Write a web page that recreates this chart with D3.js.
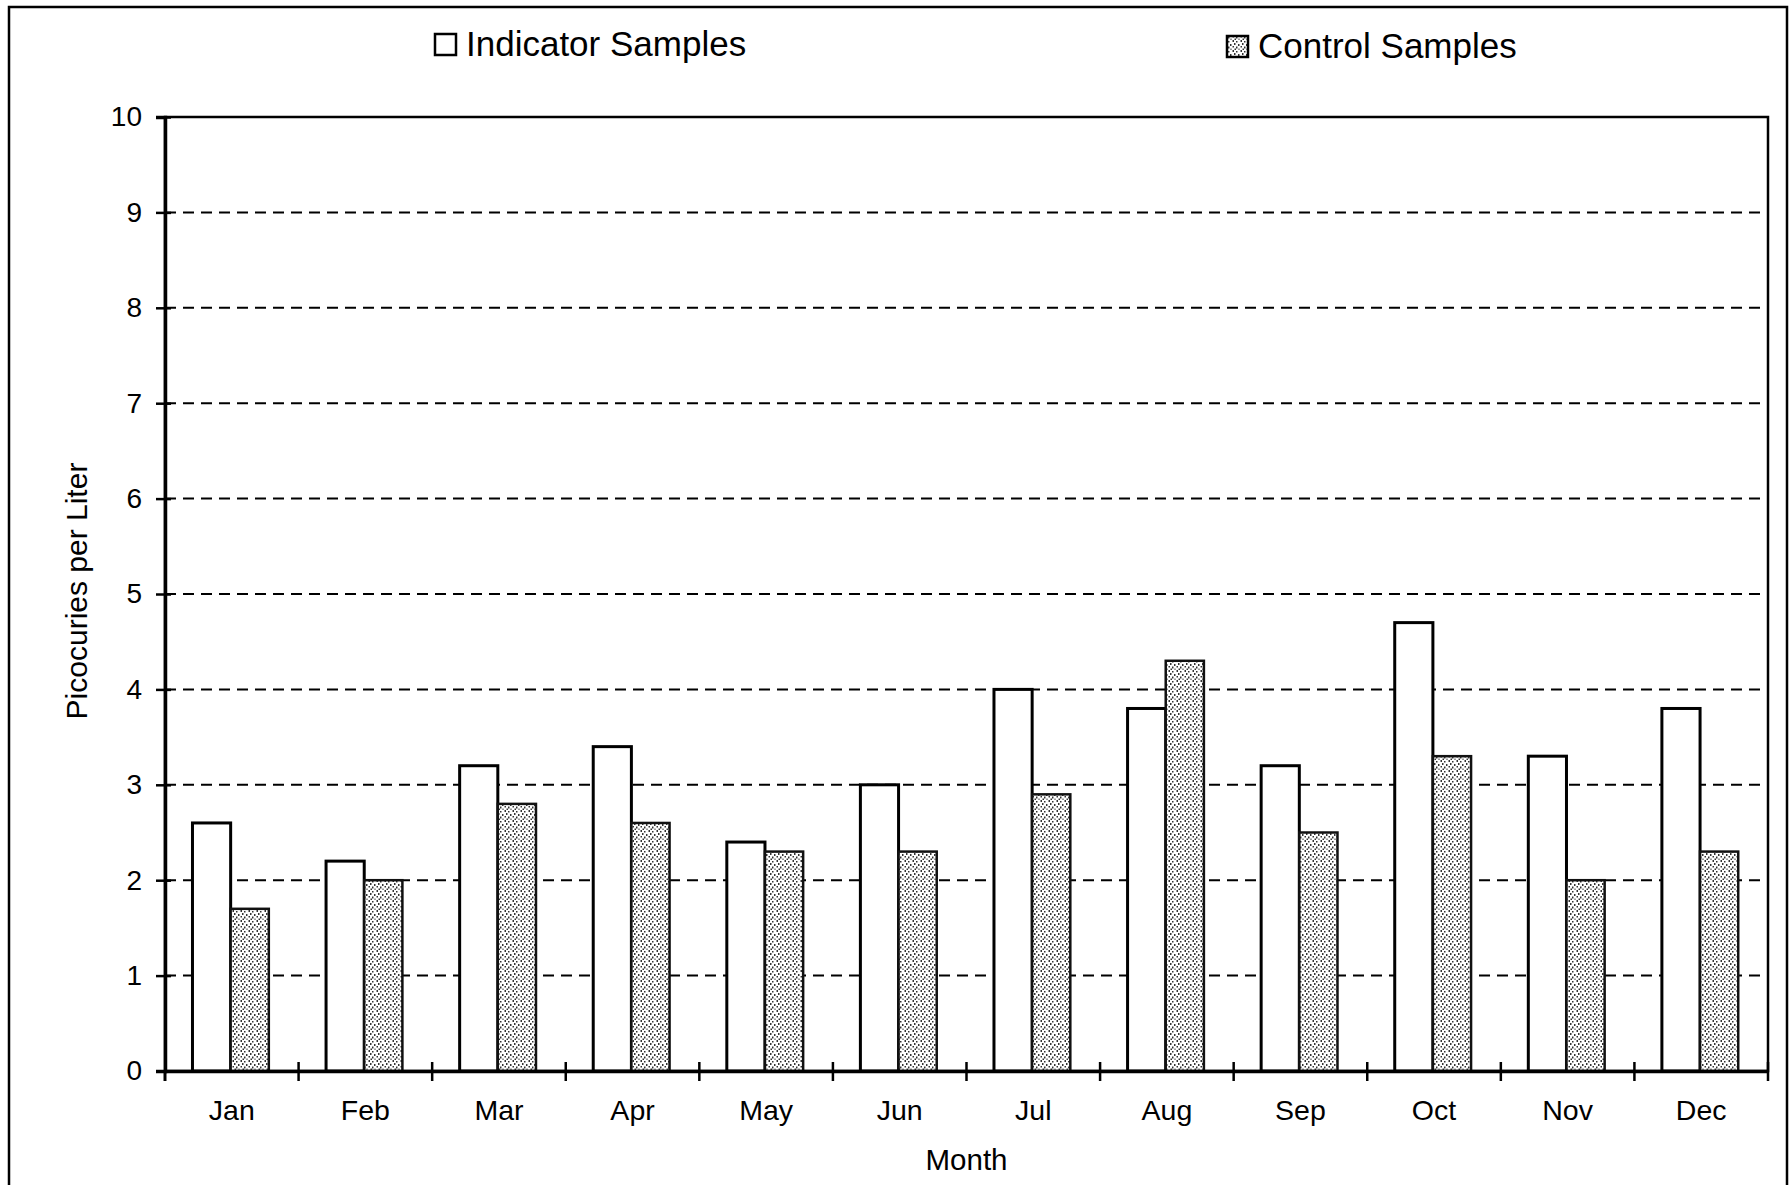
<!DOCTYPE html>
<html>
<head>
<meta charset="utf-8">
<script src="https://cdn.jsdelivr.net/npm/d3@7"></script>
<style>
  body { margin: 0; background: #fff; }
  svg { display: block; font-family: "Liberation Sans", Arial, sans-serif; }
</style>
</head>
<body>
<div id="chart"></div>
<script>
const months = ["Jan", "Feb", "Mar", "Apr", "May", "Jun", "Jul", "Aug", "Sep", "Oct", "Nov", "Dec"];
const indicator = [2.6, 2.2, 3.2, 3.4, 2.4, 3.0, 4.0, 3.8, 3.2, 4.7, 3.3, 3.8];
const control = [1.7, 2.0, 2.8, 2.6, 2.3, 2.3, 2.9, 4.3, 2.5, 3.3, 2.0, 2.3];
const yTicks = [0, 1, 2, 3, 4, 5, 6, 7, 8, 9, 10];
const seriesNames = ["Indicator Samples", "Control Samples"];

const W = 1792, H = 1185;
const plot = { left: 165, top: 117, right: 1768, bottom: 1071 };

const svg = d3
  .select("#chart")
  .append("svg")
  .attr("width", W)
  .attr("height", H);

// stipple fill for the control bars
const defs = svg.append("defs");
const pat = defs
  .append("pattern")
  .attr("id", "stipple")
  .attr("patternUnits", "userSpaceOnUse")
  .attr("width", 8)
  .attr("height", 10);
pat.append("rect").attr("width", 8).attr("height", 10).attr("fill", "#fff");
[
  [0.5, 0, 1.5, 2], [4, 1, 1.5, 1.5], [2, 3, 1.5, 2], [6, 4, 1.5, 2],
  [0.5, 6, 1.5, 1.5], [4, 6.5, 1.5, 2], [2.5, 8.5, 1.5, 1.5], [6.5, 8.5, 1, 1.5]
].forEach((r) => {
  pat
    .append("rect")
    .attr("x", r[0])
    .attr("y", r[1])
    .attr("width", r[2])
    .attr("height", r[3])
    .attr("fill", "#333");
});

// outer frame (bottom edge is missing in the scan)
svg
  .append("path")
  .attr("d", `M9,${H} L9,7 L1787,7 L1787,${H}`)
  .attr("fill", "none")
  .attr("stroke", "#000")
  .attr("stroke-width", 2.5);

const x = d3
  .scaleBand()
  .domain(months)
  .range([plot.left, plot.right]);

const barW = x.bandwidth() / 3.5;
const xs = d3
  .scaleBand()
  .domain(seriesNames)
  .range([barW * 0.72, barW * 2.72]);

const y = d3.scaleLinear().domain([0, 10]).range([plot.bottom, plot.top]);

// dashed gridlines
svg
  .append("g")
  .selectAll("line")
  .data(yTicks.filter((d) => d > 0 && d < 10))
  .join("line")
  .attr("x1", plot.left)
  .attr("x2", plot.right)
  .attr("y1", (d) => y(d))
  .attr("y2", (d) => y(d))
  .attr("stroke", "#000")
  .attr("stroke-width", 2)
  .attr("stroke-dasharray", "11,7");

// plot frame
svg
  .append("rect")
  .attr("x", plot.left)
  .attr("y", plot.top)
  .attr("width", plot.right - plot.left)
  .attr("height", plot.bottom - plot.top)
  .attr("fill", "none")
  .attr("stroke", "#000")
  .attr("stroke-width", 2.5);

// bars
const data = months.map((m, i) => ({ m, ind: indicator[i], ctl: control[i] }));

svg
  .append("g")
  .selectAll("rect")
  .data(data)
  .join("rect")
  .attr("x", (d) => x(d.m) + xs(seriesNames[0]))
  .attr("y", (d) => y(d.ind))
  .attr("width", xs.bandwidth())
  .attr("height", (d) => y(0) - y(d.ind))
  .attr("fill", "#fff")
  .attr("stroke", "#000")
  .attr("stroke-width", 3);

svg
  .append("g")
  .selectAll("rect")
  .data(data)
  .join("rect")
  .attr("x", (d) => x(d.m) + xs(seriesNames[1]))
  .attr("y", (d) => y(d.ctl))
  .attr("width", xs.bandwidth())
  .attr("height", (d) => y(0) - y(d.ctl))
  .attr("fill", "url(#stipple)")
  .attr("stroke", "#111")
  .attr("stroke-width", 2.5);

// y axis
const yAxis = svg
  .append("g")
  .attr("transform", `translate(${plot.left},0)`)
  .call(d3.axisLeft(y).tickValues(yTicks).tickSize(9).tickPadding(14));
yAxis.select(".domain").attr("stroke-width", 3.5);
yAxis.selectAll(".tick line").attr("x2", -9).attr("x1", 6).attr("stroke-width", 2.5);
yAxis
  .selectAll(".tick text")
  .attr("font-size", 28)
  .attr("font-family", "Liberation Sans, Arial, sans-serif")
  .attr("fill", "#000");

// x axis
const xAxis = svg
  .append("g")
  .attr("transform", `translate(0,${plot.bottom})`)
  .call(d3.axisBottom(x).tickSize(0).tickPadding(29));
xAxis.select(".domain").attr("stroke-width", 3.5);
xAxis
  .selectAll(".tick text")
  .attr("font-size", 28.5)
  .attr("font-family", "Liberation Sans, Arial, sans-serif")
  .attr("fill", "#000");

// tick marks between months
svg
  .append("g")
  .selectAll("line")
  .data(months.slice(1).concat(["end"]))
  .join("line")
  .attr("x1", (d) => (d === "end" ? plot.right : x(d)))
  .attr("x2", (d) => (d === "end" ? plot.right : x(d)))
  .attr("y1", plot.bottom - 9)
  .attr("y2", plot.bottom + 10)
  .attr("stroke", "#000")
  .attr("stroke-width", 2.5);
svg
  .append("line")
  .attr("x1", plot.left)
  .attr("x2", plot.left)
  .attr("y1", plot.bottom)
  .attr("y2", plot.bottom + 10)
  .attr("stroke", "#000")
  .attr("stroke-width", 3);

// axis titles
svg
  .append("text")
  .attr("x", (plot.left + plot.right) / 2)
  .attr("y", 1170)
  .attr("text-anchor", "middle")
  .attr("font-size", 29.5)
  .text("Month");

svg
  .append("text")
  .attr("transform", "translate(87,591) rotate(-90)")
  .attr("text-anchor", "middle")
  .attr("font-size", 30)
  .text("Picocuries per Liter");

// legend
const legend = [
  { name: seriesNames[0], x: 435, y: 34, fill: "#fff", tx: 466, ty: 56 },
  { name: seriesNames[1], x: 1227, y: 36, fill: "url(#stipple)", tx: 1258, ty: 58 }
];
const lg = svg.append("g").selectAll("g").data(legend).join("g");
lg.append("rect")
  .attr("x", (d) => d.x)
  .attr("y", (d) => d.y)
  .attr("width", 21)
  .attr("height", 21)
  .attr("fill", (d) => d.fill)
  .attr("stroke", "#000")
  .attr("stroke-width", 2.5);
lg.append("text")
  .attr("x", (d) => d.tx)
  .attr("y", (d) => d.ty)
  .attr("font-size", 35)
  .text((d) => d.name);
</script>
</body>
</html>
